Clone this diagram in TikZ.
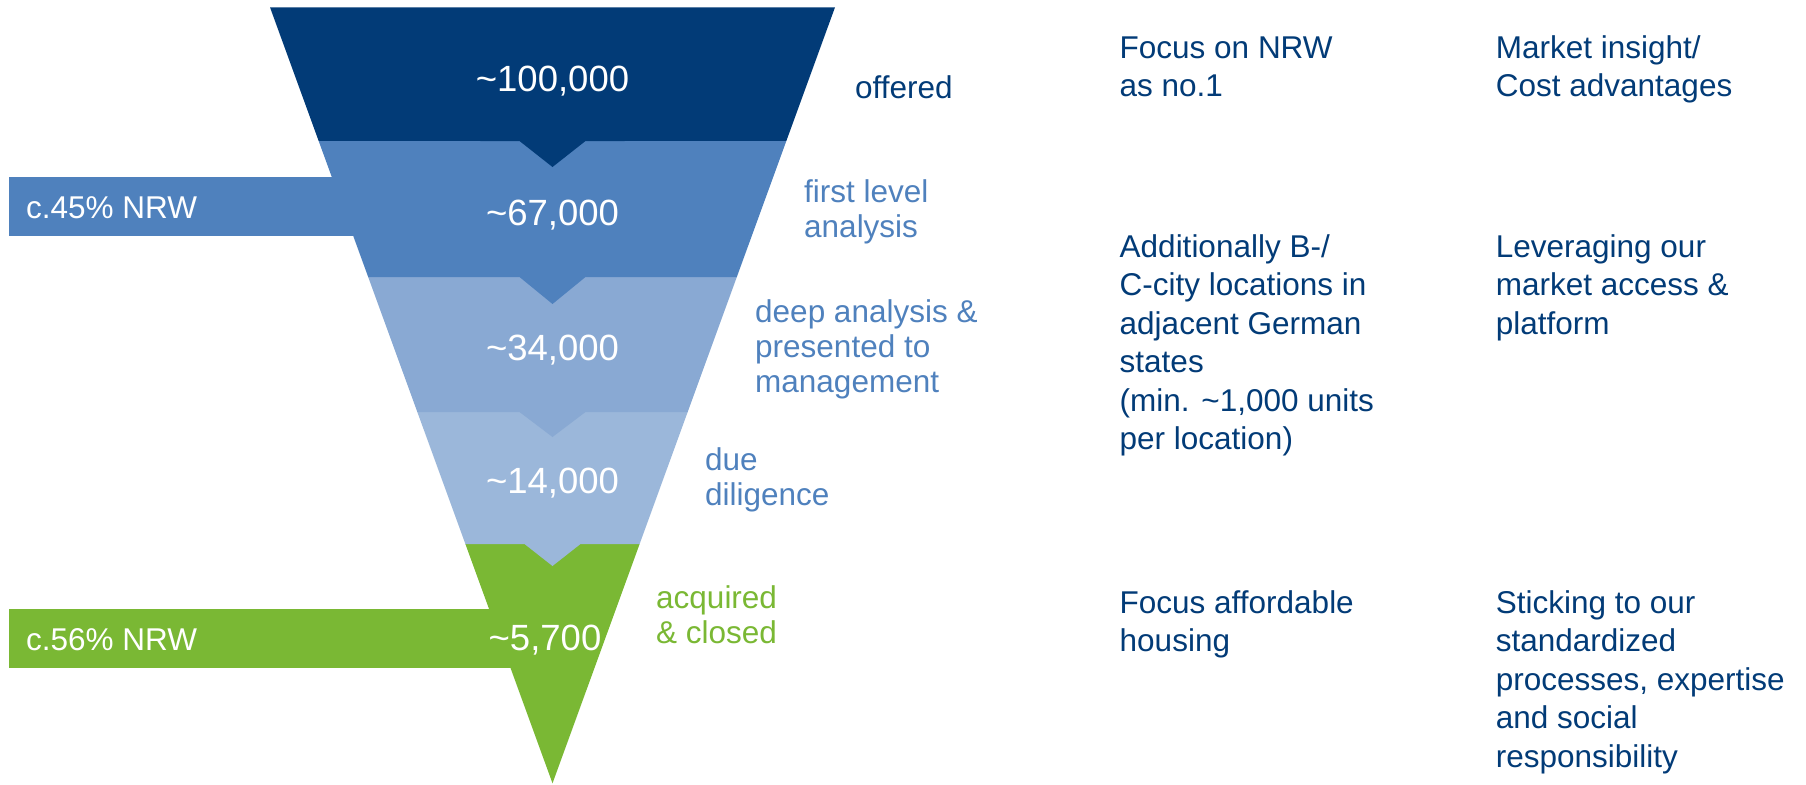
\documentclass[tikz,border=0pt]{standalone}
\usepackage{fontspec}
\setmainfont{Liberation Sans}
\usetikzlibrary{calc}

\definecolor{fnavy}{HTML}{023B77}
\definecolor{fblue2}{HTML}{4F81BD}
\definecolor{fblue3}{HTML}{89A9D3}
\definecolor{fblue4}{HTML}{9BB7DA}
\definecolor{fgreen}{HTML}{7AB834}

\begin{document}
\begin{tikzpicture}[x=1pt, y=-1pt]
    \tikzset{
      band number/.style={
        text=white, inner sep=0pt, anchor=base,
        font=\fontsize{36.5}{40}\selectfont
      },
      stage label/.style={
        inner sep=0pt, anchor=base west, align=left,
        font=\fontsize{31.5}{35}\selectfont
      },
      side note/.style={
        text=fnavy, inner sep=0pt, anchor=base west, align=left,
        font=\fontsize{31.5}{38.5}\selectfont
      },
    }
    \useasboundingbox (0,0) rectangle (1806,784);

    % Funnel outline
    \coordinate (top left) at (270,7.3);
    \coordinate (top right) at (835,7.3);
    \coordinate (tip) at (552.5,783.3);

    % Share bars
    \fill[fblue2] (9,177) rectangle (552.5,236);
    \fill[fgreen] (9,609) rectangle (552.5,668);

    % Bands, bottom up, each with its notch
    \foreach \ytop/\ybot/\bandcolor/\nw/\nd in {544/783.3/fgreen/0/0,
        412/544/fblue4/28/22, 277/412/fblue3/33/25,
        141/277/fblue2/33/27, 7.3/141/fnavy/33/26} {
      \pgfmathsetmacro\ta{(\ytop-7.3)/776}
      \pgfmathsetmacro\tb{(\ybot-7.3)/776}
      \fill[\bandcolor] ($(top left)!\ta!(tip)$) -- ($(top right)!\ta!(tip)$)
        -- ($(top right)!\tb!(tip)$) -- (552.5+\nw,\ybot) -- (552.5,\ybot+\nd)
        -- (552.5-\nw,\ybot) -- ($(top left)!\tb!(tip)$) -- cycle;
    }

    % Numbers
    \node (offered num) [band number] at (552.5,91) {\textasciitilde100,000};
    \node (first num) [band number] at (552.5,225) {\textasciitilde67,000};
    \node (deep num) [band number] at (552.5,360) {\textasciitilde34,000};
    \node (due num) [band number] at (552.5,493) {\textasciitilde14,000};
    \node (closed num) [band number] at (545,650) {\textasciitilde5,700};
    \node (share45) [band number, anchor=base west, font=\fontsize{31.5}{35}\selectfont]
      at (26,218) {c.45\% NRW};
    \node (share56) [band number, anchor=base west, font=\fontsize{31.5}{35}\selectfont]
      at (26,650) {c.56\% NRW};

    % Stage labels (placed by the baseline of the last line)
    \node (offered) [stage label, text=fnavy] at (855,98) {offered};
    \node (first) [stage label, text=fblue2] at (804,237) {first level\\analysis};
    \node (deep) [stage label, text=fblue2] at (755,392)
      {deep analysis \&\\presented to\\management};
    \node (due) [stage label, text=fblue2] at (705,505) {due\\diligence};
    \node (closed) [stage label, text=fgreen] at (656,643) {acquired\\\& closed};

    % Right columns
    \node (focus) [side note] at (1119.5,96.5) {Focus on NRW\\as no.1};
    \node (insight) [side note] at (1495.7,96.5) {Market insight/\\Cost advantages};
    \node (cities) [side note] at (1119.5,449.5)
      {Additionally B-/\\C-city locations in\\adjacent German\\states\\(min. \textasciitilde1,000 units\\per location)};
    \node (access) [side note] at (1495.7,334) {Leveraging our\\market access \&\\platform};
    \node (housing) [side note] at (1119.5,651.5) {Focus affordable\\housing};
    \node (process) [side note] at (1495.7,767)
      {Sticking to our\\standardized\\processes, expertise\\and social\\responsibility};
\end{tikzpicture}
\end{document}
